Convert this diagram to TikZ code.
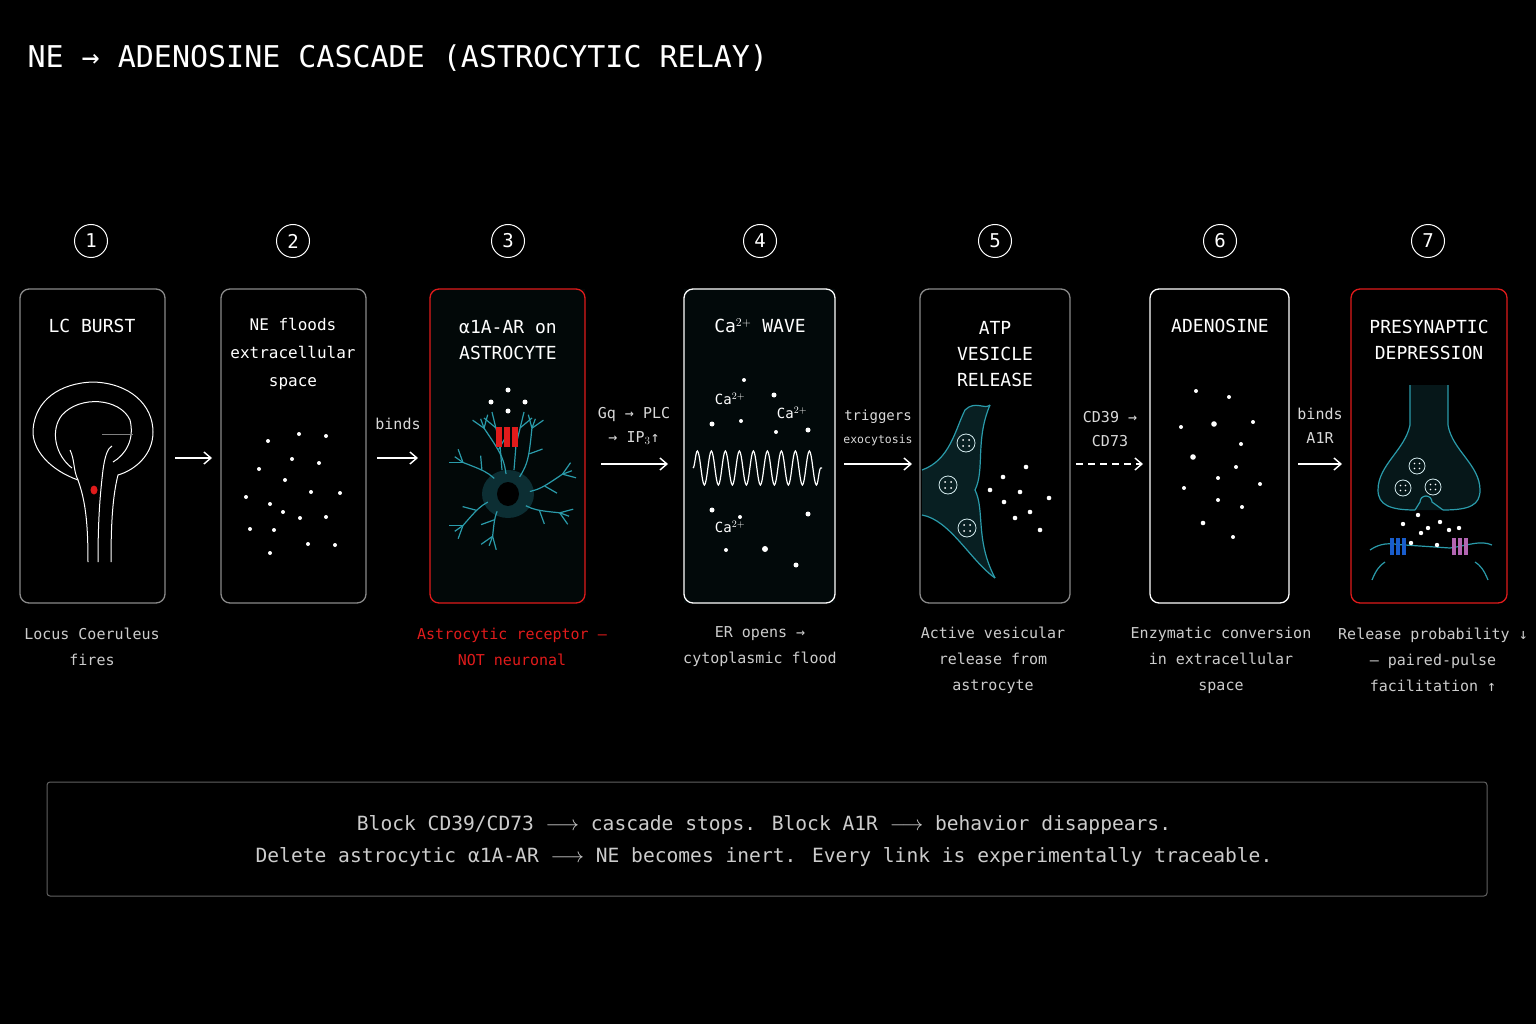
\documentclass[tikz,border=0pt]{standalone}
\usepackage{fontspec}
\setmainfont{DejaVu Sans Mono}
\usetikzlibrary{arrows.meta,decorations.pathmorphing,calc}
\definecolor{tl}{HTML}{2A9BAA}
\definecolor{rd}{HTML}{E01B1B}
\definecolor{gr}{HTML}{8A8A8A}
\begin{document}
\begin{tikzpicture}[x=1pt,y=-1pt,
  panel/.style={draw=gr,line width=1.3pt,rounded corners=9pt},
  num/.style={draw=white,circle,line width=1pt,minimum size=33pt,inner sep=0pt,text=white,font=\fontsize{19}{19}\selectfont},
  ttl/.style={text=white,align=center,font=\fontsize{18}{26}\selectfont},
  capt/.style={text=white!80!black,align=center,font=\fontsize{15}{26}\selectfont},
  lab/.style={text=white!85!black,align=center,font=\fontsize{15}{24}\selectfont},
  arr/.style={white,line width=1.4pt,-{Straight Barb[length=7pt,width=12pt]}}]
\fill[black] (0,0) rectangle (1536,1024);
\useasboundingbox (0,0) rectangle (1536,1024);
\node[anchor=west,text=white,font=\fontsize{30}{30}\selectfont] (title) at (24,58) {NE → ADENOSINE CASCADE (ASTROCYTIC RELAY)};
% panels
\draw[panel] (20,289) rectangle (165,603); \node (p1) at (92,446) {};
\draw[panel] (221,289) rectangle (366,603); \node (p2) at (293,446) {};
\fill[black!90!tl,opacity=.5] (430,289) rectangle (585,603);
\draw[panel,draw=rd] (430,289) rectangle (585,603); \node (p3) at (508,446) {};
\fill[black!88!tl,opacity=.5] (684,289) rectangle (835,603);
\draw[panel,draw=white] (684,289) rectangle (835,603); \node (p4) at (760,446) {};
\draw[panel] (920,289) rectangle (1070,603); \node (p5) at (995,446) {};
\draw[panel,draw=white] (1150,289) rectangle (1289,603); \node (p6) at (1220,446) {};
\draw[panel,draw=rd] (1351,289) rectangle (1507,603); \node (p7) at (1429,446) {};
% numbers
\foreach \x/\n in {91/1,293/2,508/3,760/4,995/5,1220/6,1428/7}{\node[num] (n\n) at (\x,241) {\n};}
% titles
\node[ttl] (t1) at (92,326) {LC BURST};
\node[ttl,font=\fontsize{16}{28}\selectfont] (t2) at (293,354) {NE floods\\extracellular\\space};
\node[ttl] (t3) at (508,340) {α1A-AR on\\ASTROCYTE};
\node[ttl] (t4) at (760,326) {Ca$^{2+}$ WAVE};
\node[ttl] (t5) at (995,354) {ATP\\VESICLE\\RELEASE};
\node[ttl] (t6) at (1220,326) {ADENOSINE};
\node[ttl] (t7) at (1429,340) {PRESYNAPTIC\\DEPRESSION};
% captions
\node[capt] (c1) at (92,647) {Locus Coeruleus\\fires};
\node[capt,text=rd] (c3) at (512,647) {Astrocytic receptor —\\NOT neuronal};
\node[capt] (c4) at (760,647) {ER opens →\\cytoplasmic flood};
\node[capt] (c5) at (993,660) {Active vesicular\\release from\\astrocyte};
\node[capt] (c6) at (1221,660) {Enzymatic conversion\\in extracellular\\space};
\node[capt] (c7) at (1433,660) {Release probability ↓\\— paired-pulse\\facilitation ↑};
% arrows
\coordinate (a1s) at (175,458); \coordinate (a1e) at (212,458);
\draw[arr] (a1s) -- (a1e);
\coordinate (a2s) at (377,458); \coordinate (a2e) at (418,458);
\draw[arr] (a2s) -- (a2e); \node[lab] (l2) at (398,424) {binds};
\coordinate (a3s) at (601,464); \coordinate (a3e) at (668,464);
\draw[arr] (a3s) -- (a3e); \node[lab] (l3) at (634,426) {Gq → PLC\\→ IP$_3$↑};
\coordinate (a4s) at (844,464); \coordinate (a4e) at (912,464);
\draw[arr] (a4s) -- (a4e); \node[lab,font=\fontsize{14}{23}\selectfont] (l4a) at (878,417) {triggers};
\node[lab,font=\fontsize{11.5}{20}\selectfont] (l4b) at (878,440) {exocytosis};
\coordinate (a5s) at (1076,464); \coordinate (a5e) at (1143,464);
\draw[arr,dash pattern=on 7pt off 5pt] (a5s) -- (a5e); \node[lab] (l5) at (1110,429) {CD39 →\\CD73};
\coordinate (a6s) at (1298,464); \coordinate (a6e) at (1342,464);
\draw[arr] (a6s) -- (a6e); \node[lab] (l6) at (1320,426) {binds\\A1R};
% panel 1 brain
\begin{scope}[white,line width=1pt]
\draw (88,562) .. controls (88,520) and (85,500) .. (78,480) .. controls (50,470) and (32,450) .. (33,430)
 .. controls (35,400) and (60,383) .. (93,382) .. controls (130,383) and (153,405) .. (153,432)
 .. controls (153,455) and (135,470) .. (118,475) .. controls (113,495) and (111,520) .. (111,562);
\draw (98,562) .. controls (98,520) and (100,495) .. (103,470) .. controls (105,455) and (108,448) .. (112,446);
\draw (72,468) .. controls (55,455) and (50,430) .. (62,415) .. controls (80,395) and (120,398) .. (130,420)
 .. controls (135,440) and (125,455) .. (113,462);
\draw (78,480) .. controls (73,470) and (75,460) .. (70,450);
\draw[white!50!black,line width=.6pt] (102,434) -- (133,434);
\end{scope}
\fill[rd] (94,490) ellipse (3.5pt and 4.5pt);
% panel 2 dots
\foreach \x/\y in {268/441, 299/434, 326/436, 292/459, 259/469, 319/463, 285/480, 246/497, 270/504, 311/492, 340/493, 283/512, 300/518, 326/517, 250/529, 274/530, 308/544, 335/545, 270/553}{\fill[white] (\x,\y) circle (2pt);}
% panel 3 astrocyte
\begin{scope}[tl,line width=1.2pt]
\fill[tl!30!black] (508,494) ellipse (26 and 24);
\foreach \a/\l in {20/55,-20/58,145/55,215/55,250/70,290/70,110/45}{
  \draw (508,494) .. controls ($(508,494)+(\a+15:\l*0.5)$) .. ($(508,494)+(\a:\l)$) coordinate (e);
  \draw (e) -- ++(\a+35:14); \draw (e) -- ++(\a-35:14); \draw (e) -- ++(\a:10);
  \draw ($(508,494)+(\a+8:\l*0.65)$) -- ++(\a+50:14);}
\fill[tl!30!black] (508,494) ellipse (22 and 20);
\fill[black] (508,494) ellipse (11 and 12);
\draw (502,470) -- (500,445); \draw (514,470) -- (516,445);
\draw (500,445) -- (492,412); \draw (516,445) -- (524,412);
\draw (496,428) -- (484,418); \draw (520,428) -- (532,418);
\end{scope}
\foreach \x in {499,507,515}{\fill[rd] (\x-3,427) rectangle (\x+3,447);}
\foreach \x/\y in {491/402, 508/390, 525/402, 508/411}{\fill[white] (\x,\y) circle (2.5pt);}
% panel 4 wave
\draw[white,line width=1.2pt,decoration={snake,amplitude=17pt,segment length=14pt},decorate] (693,468) -- (822,468);
\node[text=white,font=\fontsize{14}{14}\selectfont] (ca1) at (730,399) {Ca$^{2+}$};
\node[text=white,font=\fontsize{14}{14}\selectfont] (ca2) at (792,413) {Ca$^{2+}$};
\node[text=white,font=\fontsize{14}{14}\selectfont] (ca3) at (730,527) {Ca$^{2+}$};
\foreach \x/\y/\r in {744/380/2, 774/395/2.5, 712/424/2.5, 741/421/2, 776/432/2, 808/430/2.5, 712/510/2.5, 808/514/2.5, 740/517/2, 765/549/3, 726/550/2, 796/565/2.5}{\fill[white] (\x,\y) circle (\r pt);}
% panel 5 astrocyte membrane
\begin{scope}[tl,line width=1.2pt]
\fill[tl!20!black] (922,470) .. controls (950,460) and (955,430) .. (965,410) .. controls (975,400) and (985,410) .. (990,405)
 .. controls (975,440) and (985,470) .. (975,490) .. controls (985,510) and (975,540) .. (995,578)
 .. controls (970,560) and (950,520) .. (922,515) -- cycle;
\draw (922,470) .. controls (950,460) and (955,430) .. (965,410) .. controls (975,400) and (985,410) .. (990,405);
\draw (922,515) .. controls (950,520) and (970,560) .. (995,578);
\draw (990,405) .. controls (975,440) and (985,470) .. (975,490) .. controls (985,510) and (975,540) .. (995,578);
\foreach \x/\y in {966/443, 948/485, 967/528}{\draw[white!80!tl,line width=.8pt] (\x,\y) circle (9pt);
  \foreach \dx/\dy in {-3/-3,3/-3,-3/3,3/3}{\fill[white] (\x+\dx,\y+\dy) circle (1pt);}}
\end{scope}
\foreach \x/\y in {1003/477, 1026/467, 990/490, 1020/492, 1049/498, 1004/502, 1030/512, 1015/518, 1040/530}{\fill[white] (\x,\y) circle (2.3pt);}
% panel 6 dots
\foreach \x/\y/\r in {1196/391/2, 1229/397/2, 1181/427/2, 1214/424/2.8, 1253/422/2, 1241/444/2, 1193/457/2.8, 1236/467/2, 1218/478/2, 1260/484/2, 1184/488/2, 1218/500/2, 1242/507/2, 1203/523/2.3, 1233/537/2}{\fill[white] (\x,\y) circle (\r pt);}
% panel 7 synapse
\begin{scope}[tl,line width=1.2pt]
\fill[tl!15!black] (1410,385) -- (1410,425) .. controls (1405,450) and (1378,465) .. (1378,490) .. controls (1378,505) and (1390,510) .. (1415,510)
 -- (1443,510) .. controls (1470,510) and (1480,505) .. (1480,490) .. controls (1480,465) and (1452,450) .. (1448,425) -- (1448,385) -- cycle;
\draw (1410,385) -- (1410,425) .. controls (1405,450) and (1378,465) .. (1378,490) .. controls (1378,505) and (1390,510) .. (1415,510);
\draw (1448,385) -- (1448,425) .. controls (1452,450) and (1480,465) .. (1480,490) .. controls (1480,505) and (1470,510) .. (1443,510);
\draw (1415,510) -- (1420,502) arc (180:0:6pt) -- (1443,510);
\draw (1370,550) .. controls (1385,540) and (1395,545) .. (1405,545) -- (1450,548) .. controls (1470,545) and (1480,540) .. (1492,545);
\draw (1372,580) .. controls (1376,570) and (1380,565) .. (1385,562);
\draw (1488,580) .. controls (1484,570) and (1480,565) .. (1475,562);
\foreach \x/\y in {1417/466, 1403/488, 1433/487}{\draw[white!80!tl,line width=.8pt] (\x,\y) circle (8pt);
  \foreach \dx/\dy in {-2.5/-2.5,2.5/-2.5,-2.5/2.5,2.5/2.5}{\fill[white] (\x+\dx,\y+\dy) circle (.9pt);}}
\end{scope}
\foreach \x in {1392,1398,1404}{\fill[blue!40!tl] (\x-2,538) rectangle (\x+2,555);}
\foreach \x in {1454,1460,1466}{\fill[violet!60!white] (\x-2,538) rectangle (\x+2,555);}
\foreach \x/\y in {1418/515, 1440/522, 1403/524, 1421/533, 1449/530, 1411/543, 1437/545, 1428/528, 1459/528}{\fill[white] (\x,\y) circle (2.2pt);}
% bottom box
\draw[gr!70!black,line width=1pt,rounded corners=3pt] (47,782) rectangle (1487,896);
\node[text=white!80!black,align=center,font=\fontsize{19.6}{32}\selectfont] (note) at (764,841)
 {Block CD39/CD73 $\longrightarrow$ cascade stops. Block A1R $\longrightarrow$ behavior disappears.\\Delete astrocytic α1A-AR $\longrightarrow$ NE becomes inert. Every link is experimentally traceable.};
\end{tikzpicture}
\end{document}
